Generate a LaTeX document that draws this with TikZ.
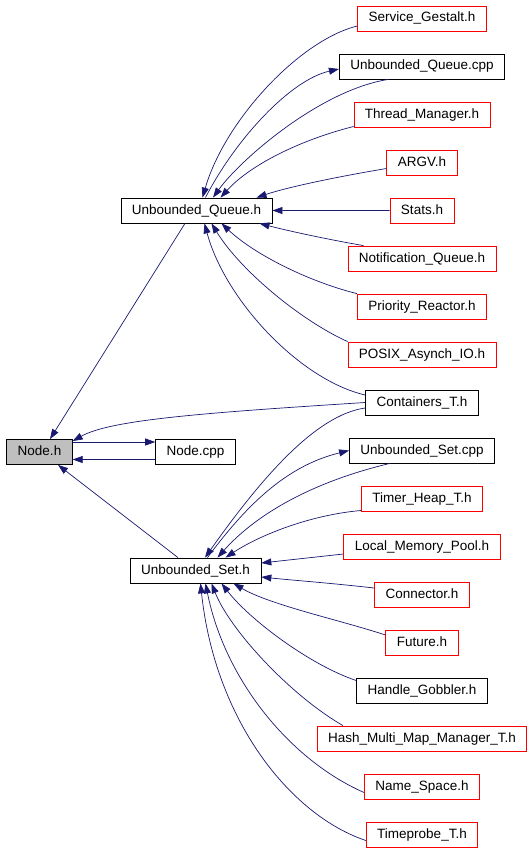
\documentclass[tikz,border=0pt]{standalone}
\usepackage{fontspec}
\setmainfont{Liberation Sans}
\usepackage{xcolor}
\usepackage{tikz}
\usetikzlibrary{arrows.meta, positioning}
\definecolor{depblue}{HTML}{191970}
\definecolor{depred}{HTML}{FF0000}
\definecolor{depgray}{HTML}{BFBFBF}

\begin{document}
\begin{tikzpicture}[x=1pt, y=-1pt,
  srcfile/.style={rectangle, draw=black, line width=0.8pt, fill=white,
    minimum height=25pt, inner xsep=11pt, inner ysep=0pt,
    text height=10pt, text depth=3pt, font=\fontsize{13.5}{16}\selectfont},
  extfile/.style={srcfile, draw=depred},
  mainfile/.style={srcfile, fill=depgray},
  dep/.style={draw=depblue, line width=0.7pt, -{Triangle[length=10pt, width=7pt]}},
  node distance=22.2pt,
]
  \useasboundingbox (0,0) rectangle (531,851);

  \node[extfile] (svc) at (422,18.5) {Service\_Gestalt.h};
  \node[srcfile, below=of svc] (uqcpp) {Unbounded\_Queue.cpp};
  \node[extfile, below=of uqcpp] (thread) {Thread\_Manager.h};
  \node[extfile, below=of thread] (argv) {ARGV.h};
  \node[extfile, below=of argv] (stats) {Stats.h};
  \node[extfile, below=of stats] (notif) {Notification\_Queue.h};
  \node[extfile, below=of notif] (prio) {Priority\_Reactor.h};
  \node[extfile, below=of prio] (posix) {POSIX\_Asynch\_IO.h};
  \node[srcfile, below=of posix] (cont) {Containers\_T.h};
  \node[srcfile, below=of cont] (uscpp) {Unbounded\_Set.cpp};
  \node[extfile, below=of uscpp] (timer) {Timer\_Heap\_T.h};
  \node[extfile, below=of timer] (local) {Local\_Memory\_Pool.h};
  \node[extfile, below=of local] (conn) {Connector.h};
  \node[extfile, below=of conn] (future) {Future.h};
  \node[srcfile, below=of future] (handle) {Handle\_Gobbler.h};
  \node[extfile, below=of handle] (hash) {Hash\_Multi\_Map\_Manager\_T.h};
  \node[extfile, below=of hash] (name) {Name\_Space.h};
  \node[extfile, below=of name] (tprobe) {Timeprobe\_T.h};

  \node[srcfile] (uq) at (196.5,210.5) {Unbounded\_Queue.h};
  \node[mainfile] (nodeh) at (39.5,452) {Node.h};
  \node[srcfile] (nodecpp) at (195.5,452) {Node.cpp};
  \node[srcfile] (us) at (195.5,570.5) {Unbounded\_Set.h};

  \draw[dep] ([yshift=-7.5pt]svc.west) .. controls (300,40) and (225,120) .. ([xshift=6pt]uq.north);
  \draw[dep] ([xshift=9pt]uq.north) .. controls (235,140) and (290,80) .. ([yshift=-2.5pt]uqcpp.west);
  \draw[dep] ([xshift=-33.5pt]uqcpp.south) .. controls (320,90) and (240,160) .. ([xshift=16.5pt]uq.north);
  \draw[dep] ([yshift=-12pt]thread.west) .. controls (300,140) and (250,165) .. ([xshift=24pt]uq.north);
  \draw[dep] ([yshift=-6pt]argv.west) .. controls (330,178) and (285,188) .. ([xshift=60pt]uq.north);
  \draw[dep] (stats.west) -- (uq.east);
  \draw[dep] ([xshift=-58.5pt]notif.north) .. controls (320,238) and (285,230) .. ([xshift=63pt]uq.south);
  \draw[dep] (prio.north west) .. controls (310,282) and (255,255) .. ([xshift=25pt]uq.south);
  \draw[dep] (posix.north west) .. controls (300,320) and (240,270) .. ([xshift=15pt]uq.south);
  \draw[dep] ([yshift=7.5pt]cont.west) .. controls (300,380) and (225,300) .. ([xshift=8pt]uq.south);

  \draw[dep] ([xshift=-11.5pt]uq.south) -- ([xshift=10.5pt]nodeh.north);
  \draw[dep] (cont.west) .. controls (200,413) and (110,420) .. ([yshift=-2pt]nodeh.north east);
  \draw[dep] ([yshift=10pt]nodeh.east) -- ([yshift=10pt]nodecpp.west);
  \draw[dep] ([yshift=-7.5pt]nodecpp.west) -- ([yshift=-7.5pt]nodeh.east);
  \draw[dep] ([xshift=-17.5pt]us.north) -- ([xshift=18.5pt]nodeh.south);

  \draw[dep] ([yshift=-5.5pt]cont.west) .. controls (315,415) and (260,480) .. ([xshift=9.5pt]us.north);
  \draw[dep] ([xshift=12pt]us.north) .. controls (250,500) and (290,465) .. (uscpp.west);
  \draw[dep] ([xshift=-32pt]uscpp.south) .. controls (320,480) and (260,510) .. ([xshift=22pt]us.north);
  \draw[dep] ([yshift=-12pt]timer.west) .. controls (310,515) and (260,535) .. ([xshift=30pt]us.north);
  \draw[dep] ([yshift=-7.5pt]local.west) -- ([yshift=7.5pt]us.east);
  \draw[dep] ([yshift=6.5pt]conn.west) .. controls (330,583) and (290,580) .. ([yshift=-6.5pt]us.east);
  \draw[dep] ([yshift=7.5pt]future.west) .. controls (340,620) and (270,605) .. ([xshift=38pt]us.south);
  \draw[dep] ([yshift=10pt]handle.west) .. controls (310,665) and (250,620) .. ([xshift=26pt]us.south);
  \draw[dep] ([xshift=-79pt]hash.north) .. controls (290,695) and (230,630) .. ([xshift=16pt]us.south);
  \draw[dep] ([yshift=-6pt]name.west) .. controls (290,760) and (225,680) .. ([xshift=10pt]us.south);
  \draw[dep] ([yshift=-6pt]tprobe.west) .. controls (290,815) and (215,720) .. ([xshift=5pt]us.south);
\end{tikzpicture}
\end{document}
